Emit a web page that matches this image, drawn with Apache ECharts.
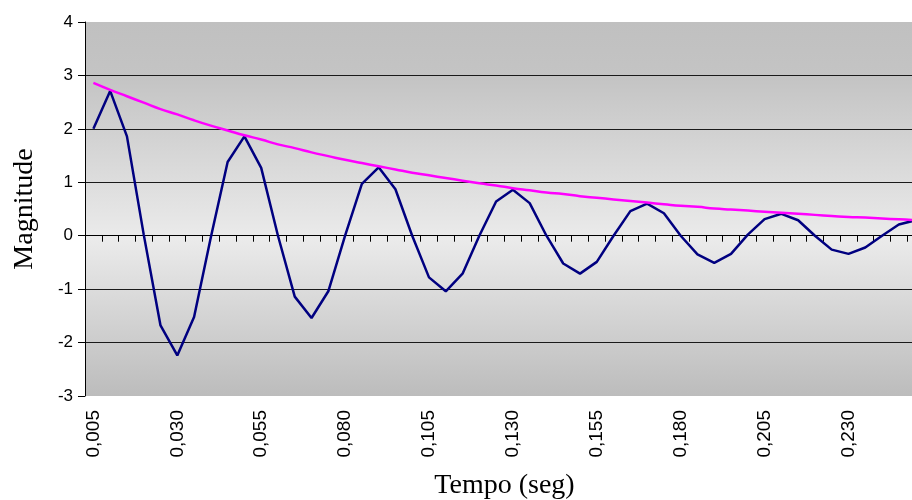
<!DOCTYPE html>
<html>
<head>
<meta charset="utf-8">
<script src="https://cdn.jsdelivr.net/npm/echarts@6/dist/echarts.min.js"></script>
<style>
    html, body { margin: 0; padding: 0; background: #fff; }
    #chart { width: 912px; height: 500px; }
</style>
</head>
<body>
<div id="chart"></div>
<script>
    // tempo (seg), passo de 0,005
    var tempo = ['0,005', '0,010', '0,015', '0,020', '0,025', '0,030', '0,035', '0,040', '0,045', '0,050',
        '0,055', '0,060', '0,065', '0,070', '0,075', '0,080', '0,085', '0,090', '0,095', '0,100',
        '0,105', '0,110', '0,115', '0,120', '0,125', '0,130', '0,135', '0,140', '0,145', '0,150',
        '0,155', '0,160', '0,165', '0,170', '0,175', '0,180', '0,185', '0,190', '0,195', '0,200',
        '0,205', '0,210', '0,215', '0,220', '0,225', '0,230', '0,235', '0,240', '0,245', '0,250'];

    var sinal = [2.0, 2.71, 1.86, 0.02, -1.68, -2.24, -1.52, -0.03, 1.38, 1.86,
        1.27, 0.0, -1.14, -1.54, -1.04, 0.0, 0.97, 1.28, 0.87, 0.0,
        -0.78, -1.04, -0.71, 0.0, 0.64, 0.86, 0.61, 0.0, -0.52, -0.71,
        -0.49, 0.0, 0.46, 0.60, 0.42, 0.0, -0.35, -0.51, -0.34, 0.02,
        0.31, 0.41, 0.29, 0.0, -0.26, -0.34, -0.22, 0.0, 0.21, 0.29];

    var envoltoria = [2.86, 2.73, 2.61, 2.49, 2.37, 2.27, 2.16, 2.06, 1.97, 1.88,
        1.80, 1.71, 1.64, 1.56, 1.49, 1.42, 1.36, 1.30, 1.24, 1.18,
        1.13, 1.08, 1.03, 0.98, 0.94, 0.89, 0.85, 0.81, 0.78, 0.74,
        0.71, 0.68, 0.65, 0.62, 0.59, 0.56, 0.54, 0.51, 0.49, 0.47,
        0.45, 0.43, 0.41, 0.39, 0.37, 0.35, 0.34, 0.32, 0.31, 0.29];

    var chart = echarts.init(document.getElementById('chart'));

    var fundo = new echarts.graphic.LinearGradient(0, 0, 0, 1, [
        { offset: 0, color: '#c0c0c0' },
        { offset: 0.15, color: '#c4c4c4' },
        { offset: 0.58, color: '#ebebeb' },
        { offset: 1, color: '#bcbcbc' }
    ]);

    var option = {
        animation: false,
        backgroundColor: '#fff',
        grid: {
            left: 85,
            top: 22,
            width: 839,
            bottom: 104,
            outerBoundsMode: 'none',
            containLabel: false,
            show: true,
            borderWidth: 0,
            backgroundColor: fundo
        },
        xAxis: [
            {
                type: 'category',
                data: tempo,
                position: 'bottom',
                boundaryGap: true,
                axisLine: { show: false, onZero: false },
                axisTick: { show: false },
                axisLabel: {
                    interval: 4,
                    rotate: 90,
                    margin: 14,
                    fontFamily: 'Liberation Sans, Arial',
                    fontSize: 19,
                    color: '#000'
                },
                name: 'Tempo (seg)',
                nameLocation: 'middle',
                nameGap: 76,
                nameTextStyle: {
                    fontFamily: 'Liberation Serif, Times New Roman',
                    fontSize: 28,
                    color: '#000'
                }
            },
            {
                // eixo no zero, só linha e marcas
                type: 'category',
                data: tempo,
                position: 'top',
                boundaryGap: true,
                axisLine: { show: true, onZero: true, lineStyle: { color: '#000', width: 1 } },
                axisTick: { show: true, inside: true, length: 6, interval: 0, lineStyle: { color: '#000' } },
                axisLabel: { show: false },
                splitLine: { show: false }
            }
        ],
        yAxis: {
            type: 'value',
            min: -3,
            max: 4,
            interval: 1,
            axisLine: { show: true, lineStyle: { color: '#000', width: 1 } },
            axisTick: { show: true, length: 7, lineStyle: { color: '#000' } },
            axisLabel: {
                margin: 12,
                fontFamily: 'Liberation Sans, Arial',
                fontSize: 17,
                color: '#000'
            },
            splitLine: {
                show: true,
                showMinLine: false,
                showMaxLine: false,
                lineStyle: { color: '#1a1a1a', width: 1 }
            },
            name: 'Magnitude',
            nameLocation: 'middle',
            nameGap: 46,
            nameTextStyle: {
                fontFamily: 'Liberation Serif, Times New Roman',
                fontSize: 28,
                color: '#000'
            }
        },
        series: [
            {
                name: 'Sinal',
                type: 'line',
                xAxisIndex: 0,
                data: sinal,
                symbol: 'none',
                lineStyle: { color: '#000080', width: 2.5 },
                z: 3
            },
            {
                name: 'Envoltória',
                type: 'line',
                xAxisIndex: 0,
                data: envoltoria,
                smooth: true,
                symbol: 'none',
                lineStyle: { color: '#ff00ff', width: 2.5 },
                z: 4
            }
        ]
    };

    chart.setOption(option);
</script>
</body>
</html>
